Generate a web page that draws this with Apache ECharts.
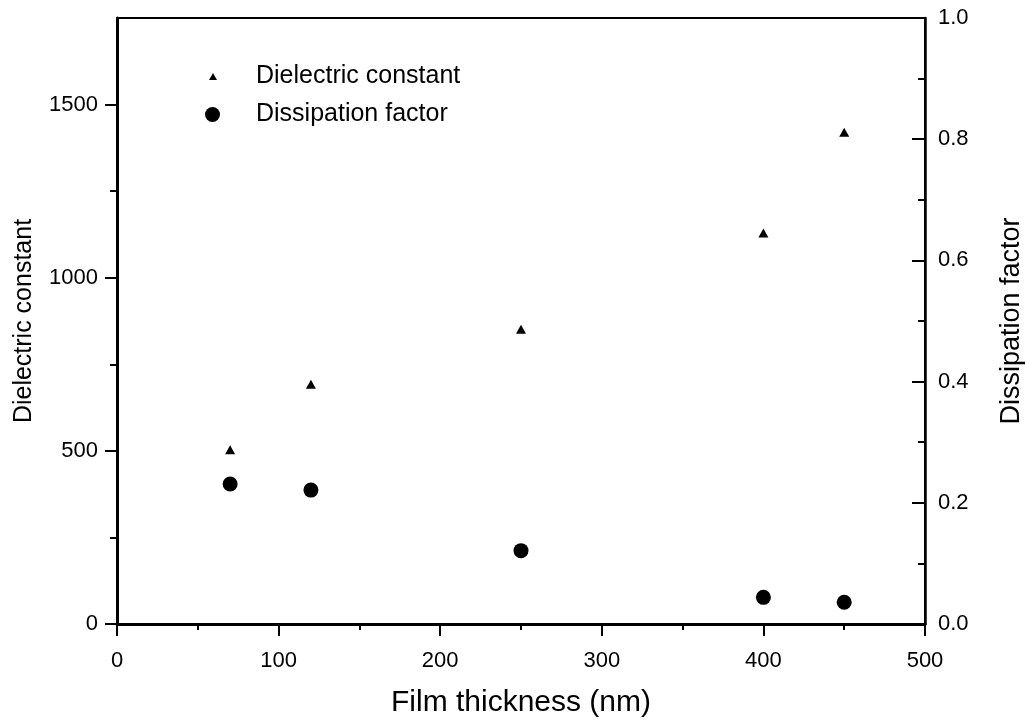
<!DOCTYPE html>
<html>
<head>
<meta charset="utf-8">
<script src="https://cdn.jsdelivr.net/npm/echarts@6/dist/echarts.min.js"></script>
<style>
  html, body { margin: 0; padding: 0; background: #fff; }
  #chart { width: 1027px; height: 726px; }
</style>
</head>
<body>
<div id="chart"></div>
<script>
// Film thickness (nm) of each sample
const thickness = [70, 120, 250, 400, 450];
// Dielectric constant (left axis)
const dielectricConstant = [503, 692, 851, 1129, 1420];
// Dissipation factor (right axis)
const dissipationFactor = [0.231, 0.221, 0.121, 0.044, 0.036];

const leftMajorTicks = [0, 500, 1000, 1500];
const leftMinorTicks = [250, 750, 1250];

const FONT = "'Liberation Sans', Arial, sans-serif";
const INK = '#000';

const pairs = (xs, ys) => xs.map((x, i) => [x, ys[i]]);

const chart = echarts.init(document.getElementById('chart'), null, { renderer: 'canvas' });

chart.setOption({
  backgroundColor: '#fff',
  animation: false,
  grid: {
    left: 117, right: 102, top: 18, bottom: 102,
    show: true, borderColor: INK, borderWidth: 2,
    outerBoundsMode: 'none'
  },
  legend: [
    {
      data: [{ name: 'Dielectric constant', icon: 'triangle' }],
      left: 204, top: 59,
      itemWidth: 8, itemHeight: 7,
      textStyle: { fontFamily: FONT, fontSize: 25, color: INK, padding: [0, 0, 0, 34] },
      selectedMode: false
    },
    {
      data: [{ name: 'Dissipation factor', icon: 'circle' }],
      left: 200, top: 97,
      itemWidth: 15, itemHeight: 15,
      textStyle: { fontFamily: FONT, fontSize: 25, color: INK, padding: [0, 0, 0, 31] },
      selectedMode: false
    }
  ],
  xAxis: {
    type: 'value', min: 0, max: 500, interval: 100,
    name: 'Film thickness (nm)', nameLocation: 'middle', nameGap: 64,
    nameTextStyle: { fontFamily: FONT, fontSize: 30, color: INK },
    axisLine: { lineStyle: { color: INK, width: 3 } },
    axisTick: { length: 12, lineStyle: { color: INK, width: 2 } },
    minorTick: { show: true, splitNumber: 2, length: 6, lineStyle: { color: INK, width: 2 } },
    splitLine: { show: false },
    axisLabel: { fontFamily: FONT, fontSize: 22, color: INK, margin: 26 }
  },
  yAxis: [
    {
      type: 'value', position: 'left', min: 0, max: 1750,
      name: 'Dielectric constant', nameLocation: 'middle', nameGap: 80,
      nameTextStyle: { fontFamily: FONT, fontSize: 25, color: INK },
      axisLine: { lineStyle: { color: INK, width: 3 } },
      axisTick: { length: 12, customValues: leftMajorTicks, lineStyle: { color: INK, width: 2 } },
      splitLine: { show: false },
      axisLabel: { customValues: leftMajorTicks, fontFamily: FONT, fontSize: 22, color: INK, margin: 19,
                   formatter: v => String(v) }
    },
    {
      type: 'value', position: 'right', min: 0, max: 1, interval: 0.2,
      name: 'Dissipation factor', nameLocation: 'middle', nameGap: 73,
      nameTextStyle: { fontFamily: FONT, fontSize: 27, color: INK },
      axisLine: { lineStyle: { color: INK, width: 2.5 } },
      axisTick: { inside: true, length: 13, lineStyle: { color: INK, width: 2 } },
      minorTick: { show: true, splitNumber: 2, length: 7, lineStyle: { color: INK, width: 2 } },
      splitLine: { show: false },
      axisLabel: { fontFamily: FONT, fontSize: 22, color: INK, margin: 13,
                   formatter: v => v.toFixed(1) }
    },
    {
      // short intermediate ticks on the left axis
      type: 'value', position: 'left', min: 0, max: 1750,
      axisLine: { show: false },
      axisTick: { length: 7, customValues: leftMinorTicks, lineStyle: { color: INK, width: 2 } },
      axisLabel: { show: false },
      splitLine: { show: false }
    }
  ],
  series: [
    {
      name: 'Dielectric constant', type: 'scatter', yAxisIndex: 0,
      symbol: 'triangle', symbolSize: [10, 9],
      itemStyle: { color: INK, opacity: 1 },
      data: pairs(thickness, dielectricConstant)
    },
    {
      name: 'Dissipation factor', type: 'scatter', yAxisIndex: 1,
      symbol: 'circle', symbolSize: 15,
      itemStyle: { color: INK, opacity: 1 },
      data: pairs(thickness, dissipationFactor)
    }
  ]
});
</script>
</body>
</html>
